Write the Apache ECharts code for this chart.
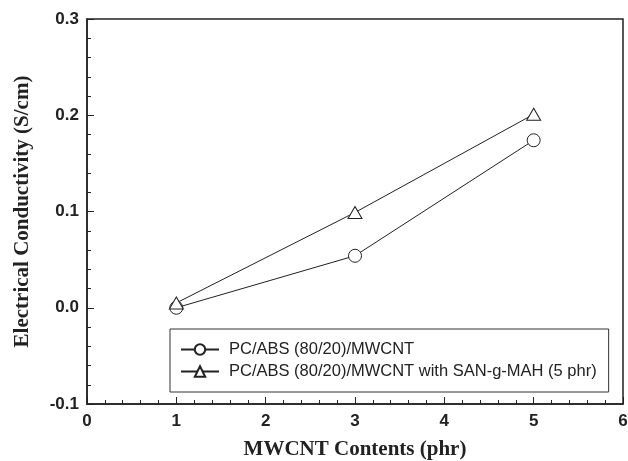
<!DOCTYPE html>
<html>
<head>
<meta charset="utf-8">
<script src="https://cdn.jsdelivr.net/npm/echarts@6/dist/echarts.min.js"></script>
<style>
  html, body { margin: 0; padding: 0; background: #fff; }
  #chart { width: 628px; height: 461px; }
</style>
</head>
<body>
<div id="chart"></div>
<script>
// data
const contents = [1, 3, 5];
const pcAbs = [0.0, 0.054, 0.174];
const pcAbsSan = [0.005, 0.099, 0.201];
const seriesNames = ['PC/ABS (80/20)/MWCNT', 'PC/ABS (80/20)/MWCNT with SAN-g-MAH (5 phr)'];

const tickFont = { color: '#222', fontFamily: 'Liberation Sans', fontWeight: 'bold', fontSize: 17 };
const nameFont = { color: '#222', fontFamily: 'Liberation Serif', fontWeight: 'bold', fontSize: 21 };

const toPairs = (xs, ys) => xs.map((x, i) => [x, ys[i]]);

let myChart = echarts.init(document.getElementById('chart'), null, { renderer: 'canvas' });

const option = {
    animation: false,
    backgroundColor: '#fff',
    grid: {
        left: 87, right: 5, top: 19, bottom: 57,
        outerBoundsMode: 'none',
        containLabel: false,
        show: true, borderColor: '#222', borderWidth: 1.5, backgroundColor: 'transparent'
    },
    legend: {
        orient: 'vertical',
        left: 170, top: 329,
        padding: [12, 12, 12, 10],
        itemGap: 5,
        itemWidth: 38, itemHeight: 13,
        borderColor: '#333', borderWidth: 1,
        backgroundColor: '#fff',
        textStyle: { color: '#222', fontFamily: 'Liberation Sans', fontSize: 16.5, padding: [0, 0, 0, 5] },
        data: seriesNames
    },
    xAxis: {
        type: 'value', min: 0, max: 6, interval: 1,
        name: 'MWCNT Contents (phr)', nameLocation: 'middle', nameGap: 35,
        nameTextStyle: nameFont,
        axisLine: { show: true, onZero: false, lineStyle: { color: '#222', width: 1.5 } },
        axisTick: { show: true, inside: true, length: 7, lineStyle: { color: '#222' } },
        minorTick: { show: true, splitNumber: 5, length: 4, lineStyle: { color: '#222' } },
        splitLine: { show: false },
        axisLabel: Object.assign({ margin: 9 }, tickFont)
    },
    yAxis: {
        type: 'value', min: -0.1, max: 0.3, interval: 0.1,
        name: 'Electrical Conductivity (S/cm)', nameLocation: 'middle', nameGap: 54,
        nameTextStyle: nameFont,
        axisLine: { show: true, onZero: false, lineStyle: { color: '#222', width: 1.5 } },
        axisTick: { show: true, inside: true, length: 7, lineStyle: { color: '#222' } },
        minorTick: { show: true, splitNumber: 5, length: 4, lineStyle: { color: '#222' } },
        splitLine: { show: false },
        axisLabel: Object.assign({ margin: 8, formatter: v => v.toFixed(1) }, tickFont)
    },
    series: [
        {
            name: seriesNames[0], type: 'line',
            data: toPairs(contents, pcAbs),
            symbol: 'circle', symbolSize: 13,
            lineStyle: { color: '#222', width: 1 },
            itemStyle: { color: '#fff', borderColor: '#222', borderWidth: 1 }
        },
        {
            name: seriesNames[1], type: 'line',
            data: toPairs(contents, pcAbsSan),
            symbol: 'triangle', symbolSize: [14, 12],
            lineStyle: { color: '#222', width: 1 },
            itemStyle: { color: '#fff', borderColor: '#222', borderWidth: 1 }
        }
    ]
};

myChart.setOption(option);
</script>
</body>
</html>
